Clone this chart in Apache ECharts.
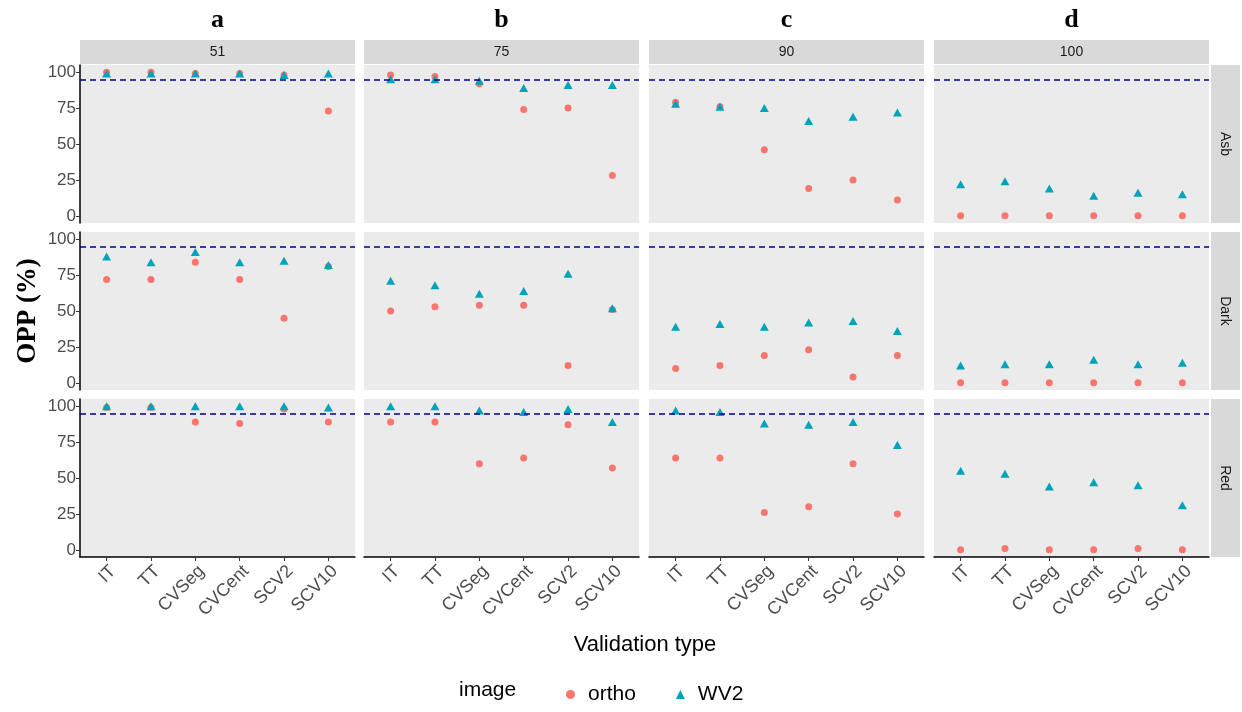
<!DOCTYPE html>
<html>
<head>
<meta charset="utf-8">
<script src="https://cdn.jsdelivr.net/npm/echarts@6/dist/echarts.min.js"></script>
<style>html,body{margin:0;padding:0;background:#fff;}#chart{width:1242px;height:712px;}</style>
</head>
<body>
<div id="chart"></div>
<script>
// ---- data ----
const categories = ['IT', 'TT', 'CVSeg', 'CVCent', 'SCV2', 'SCV10'];
const thresholds = ['51', '75', '90', '100'];
const panelLetters = ['a', 'b', 'c', 'd'];
const classes = ['Asb', 'Dark', 'Red'];
const yTicks = [0, 25, 50, 75, 100];
const referenceLine = 95;

const orthoAsb51  = [100, 100, 99, 99, 98, 73];
const wv2Asb51    = [99, 99, 99, 99, 98, 99];
const orthoAsb75  = [98, 97, 92, 74, 75, 28];
const wv2Asb75    = [95, 95, 94, 89, 91, 91];
const orthoAsb90  = [79, 76, 46, 19, 25, 11];
const wv2Asb90    = [78, 76, 75, 66, 69, 72];
const orthoAsb100 = [0, 0, 0, 0, 0, 0];
const wv2Asb100   = [22, 24, 19, 14, 16, 15];

const orthoDark51  = [72, 72, 84, 72, 45, 81];
const wv2Dark51    = [88, 84, 91, 84, 85, 82];
const orthoDark75  = [50, 53, 54, 54, 12, 51];
const wv2Dark75    = [71, 68, 62, 64, 76, 52];
const orthoDark90  = [10, 12, 19, 23, 4, 19];
const wv2Dark90    = [39, 41, 39, 42, 43, 36];
const orthoDark100 = [0, 0, 0, 0, 0, 0];
const wv2Dark100   = [12, 13, 13, 16, 13, 14];

const orthoRed51  = [99, 99, 89, 88, 98, 89];
const wv2Red51    = [100, 100, 100, 100, 100, 99];
const orthoRed75  = [89, 89, 60, 64, 87, 57];
const wv2Red75    = [100, 100, 97, 96, 98, 89];
const orthoRed90  = [64, 64, 26, 30, 60, 25];
const wv2Red90    = [97, 96, 88, 87, 89, 73];
const orthoRed100 = [0, 1, 0, 0, 1, 0];
const wv2Red100   = [55, 53, 44, 47, 45, 31];

const orthoRows = [
  [orthoAsb51, orthoAsb75, orthoAsb90, orthoAsb100],
  [orthoDark51, orthoDark75, orthoDark90, orthoDark100],
  [orthoRed51, orthoRed75, orthoRed90, orthoRed100]
];
const wv2Rows = [
  [wv2Asb51, wv2Asb75, wv2Asb90, wv2Asb100],
  [wv2Dark51, wv2Dark75, wv2Dark90, wv2Dark100],
  [wv2Red51, wv2Red75, wv2Red90, wv2Red100]
];

// ---- layout ----
const panelLeft = [80, 364, 649, 934];
const panelTop = [65, 232, 399];
const panelW = 275, panelH = 158;
const ORTHO = '#F8766D', WV2 = '#00A3B9';
const catPos = categories.map((_, k) => k + 1);
const labelFont = 'Liberation Sans, Arial, sans-serif';

const grids = [], xAxes = [], yAxes = [], series = [];
classes.forEach((cls, r) => {
  thresholds.forEach((th, c) => {
    const i = r * 4 + c;
    grids.push({left: panelLeft[c], top: panelTop[r], width: panelW, height: panelH,
      show: true, backgroundColor: '#EBEBEB', borderWidth: 0});
    xAxes.push({
      gridIndex: i, type: 'value', min: 0.4, max: 6.6, show: r === 2, position: 'bottom',
      axisLine: {show: true, onZero: false, lineStyle: {color: '#000', width: 1.5}},
      axisTick: {show: true, customValues: catPos, length: 4, lineStyle: {color: '#333'}},
      axisLabel: {customValues: catPos, formatter: v => categories[Math.round(v) - 1],
        rotate: 45, align: 'right', verticalAlign: 'top',
        fontSize: 18, color: '#4D4D4D', margin: 5, fontFamily: labelFont},
      splitLine: {show: false}
    });
    yAxes.push({
      gridIndex: i, type: 'value', min: -5, max: 105, show: c === 0, position: 'left',
      axisLine: {show: true, onZero: false, lineStyle: {color: '#000', width: 1.5}},
      axisTick: {show: true, customValues: yTicks, length: 4, lineStyle: {color: '#333'}},
      axisLabel: {customValues: yTicks, fontSize: 17, color: '#4D4D4D', margin: 4, fontFamily: labelFont},
      splitLine: {show: false}
    });
    series.push({
      name: 'ortho', type: 'scatter', xAxisIndex: i, yAxisIndex: i,
      symbol: 'circle', symbolSize: 7, itemStyle: {color: ORTHO, opacity: 1},
      data: orthoRows[r][c].map((v, k) => [k + 1, v]),
      markLine: {silent: true, symbol: 'none', label: {show: false},
        lineStyle: {color: '#00008B', type: [6, 4], width: 1.5},
        data: [{yAxis: referenceLine}]}
    });
    series.push({
      name: 'WV2', type: 'scatter', xAxisIndex: i, yAxisIndex: i,
      symbol: 'triangle', symbolSize: [9, 8], itemStyle: {color: WV2, opacity: 1},
      data: wv2Rows[r][c].map((v, k) => [k + 1, v])
    });
  });
});

// strips and titles
const graphics = [];
thresholds.forEach((th, c) => {
  graphics.push({type: 'rect', shape: {x: panelLeft[c], y: 40, width: panelW, height: 24},
    style: {fill: '#D9D9D9'}, silent: true});
  graphics.push({type: 'text', x: panelLeft[c] + panelW / 2, y: 52,
    style: {text: th, fill: '#1A1A1A', fontSize: 14, fontFamily: labelFont, align: 'center', verticalAlign: 'middle'}});
  graphics.push({type: 'text', x: panelLeft[c] + panelW / 2, y: 20,
    style: {text: panelLetters[c], fill: '#000', fontSize: 26, fontWeight: 'bold',
      fontFamily: 'Liberation Serif, Times New Roman, serif', align: 'center', verticalAlign: 'middle'}});
});
classes.forEach((cls, r) => {
  graphics.push({type: 'rect', shape: {x: 1211, y: panelTop[r], width: 29, height: panelH},
    style: {fill: '#D9D9D9'}, silent: true});
  graphics.push({type: 'text', x: 1225, y: panelTop[r] + panelH / 2, rotation: -Math.PI / 2,
    style: {text: cls, fill: '#1A1A1A', fontSize: 14, fontFamily: labelFont, align: 'center', verticalAlign: 'middle'}});
});
graphics.push({type: 'text', x: 28, y: 311, rotation: Math.PI / 2,
  style: {text: 'OPP (%)', fill: '#000', fontSize: 27, fontWeight: 'bold',
    fontFamily: 'Liberation Serif, Times New Roman, serif', align: 'center', verticalAlign: 'middle'}});
graphics.push({type: 'text', x: 645, y: 645,
  style: {text: 'Validation type', fill: '#000', fontSize: 22, fontFamily: labelFont, align: 'center', verticalAlign: 'middle'}});
graphics.push({type: 'text', x: 459, y: 690,
  style: {text: 'image', fill: '#000', fontSize: 21, fontFamily: labelFont, align: 'left', verticalAlign: 'middle'}});

const chart = echarts.init(document.getElementById('chart'), null, {renderer: 'canvas'});
chart.setOption({
  animation: false,
  backgroundColor: '#fff',
  grid: grids,
  xAxis: xAxes,
  yAxis: yAxes,
  series: series,
  legend: {
    left: 561, top: 679, itemWidth: 9, itemHeight: 9, itemGap: 40,
    data: [{name: 'ortho', icon: 'circle'}, {name: 'WV2', icon: 'triangle'}],
    textStyle: {fontSize: 21, color: '#000', fontFamily: labelFont, padding: [0, 0, 0, 8]}
  },
  graphic: graphics
});
</script>
</body>
</html>
